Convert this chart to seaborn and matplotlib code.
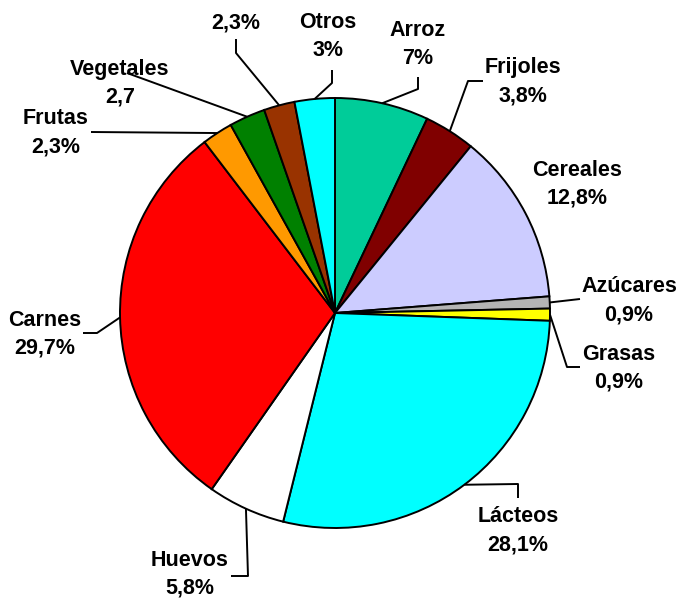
import numpy as np
import matplotlib
matplotlib.use("Agg")
import matplotlib.pyplot as plt
import seaborn as sns

# Food group shares of the diet
categories = ["Arroz", "Frijoles", "Cereales", "Azúcares", "Grasas", "Lácteos",
              "Huevos", "Carnes", "Frutas", "Vegetales", "", "Otros"]
values = [7.0, 3.8, 12.8, 0.9, 0.9, 28.1, 5.8, 29.7, 2.3, 2.7, 2.3, 3.0]
value_labels = ["7%", "3,8%", "12,8%", "0,9%", "0,9%", "28,1%",
                "5,8%", "29,7%", "2,3%", "2,7", "2,3%", "3%"]
colors = ["#00CC99", "#800000", "#CCCCFF", "#B4B4B4", "#FFFF00", "#00FFFF",
          "#FFFFFF", "#FF0000", "#FF9900", "#008000", "#993300", "#00FFFF"]

sns.set_theme(style="white")
plt.rcParams["font.family"] = ["Liberation Sans", "DejaVu Sans"]

W, H = 680, 598
fig = plt.figure(figsize=(6.8, 5.98), dpi=100)
ax = fig.add_axes([0, 0, 1, 1])

cx, cy, R = 335, H - 313, 215
wedges, _ = ax.pie(values, colors=colors, startangle=90, counterclock=False,
                   center=(cx, cy), radius=R, frame=True,
                   wedgeprops=dict(edgecolor="black", linewidth=1.4))
ax.set_xlim(0, W)
ax.set_ylim(0, H)
ax.set_aspect("equal")
ax.axis("off")

# label text centres (x, first line y, second line y), in pixels from top
label_pos = {
    "Arroz": (418, 30, 58),
    "Frijoles": (523, 68, 96),
    "Cereales": (577, 170, 198),
    "Azúcares": (629, 287, 315),
    "Grasas": (619, 354, 382),
    "Lácteos": (518, 517, 545),
    "Huevos": (190, 560, 588),
    "Carnes": (45, 320, 348),
    "Frutas": (56, 118, 147),
    "Vegetales": (120, 69, 97),
    "": (236, None, 23),
    "Otros": (328, 22, 50),
}
# leader line bends after leaving the slice edge, in pixels from top
leaders = {
    "Arroz": [(418, 89), (418, 77)],
    "Frijoles": [(468, 81), (483, 81)],
    "Azúcares": [(580, 299)],
    "Grasas": [(567, 367), (580, 367)],
    "Lácteos": [(518, 484), (518, 498)],
    "Huevos": [(248, 576), (231, 576)],
    "Carnes": [(97, 333), (83, 333)],
    "Frutas": [(91, 132)],
    "Vegetales": [(127, 73)],
    "": [(236, 53), (236, 39)],
    "Otros": [(332, 83), (332, 70)],
}

fs = 15.5
for w, name, vl in zip(wedges, categories, value_labels):
    mid = np.deg2rad((w.theta1 + w.theta2) / 2)
    ex, ey = cx + R * np.cos(mid), cy + R * np.sin(mid)
    if name in leaders:
        pts = [(ex, ey)] + [(x, H - y) for x, y in leaders[name]]
        xs, ys = zip(*pts)
        ax.plot(xs, ys, color="black", lw=1.4, solid_capstyle="butt", zorder=3)
    x, y1, y2 = label_pos[name]
    if y1 is not None and name:
        ax.text(x, H - y1, name, ha="center", va="center", fontsize=fs,
                fontweight="bold", color="black")
    ax.text(x, H - y2, vl, ha="center", va="center", fontsize=fs,
            fontweight="bold", color="black")

fig.savefig("out.png", dpi=100, facecolor="white")
